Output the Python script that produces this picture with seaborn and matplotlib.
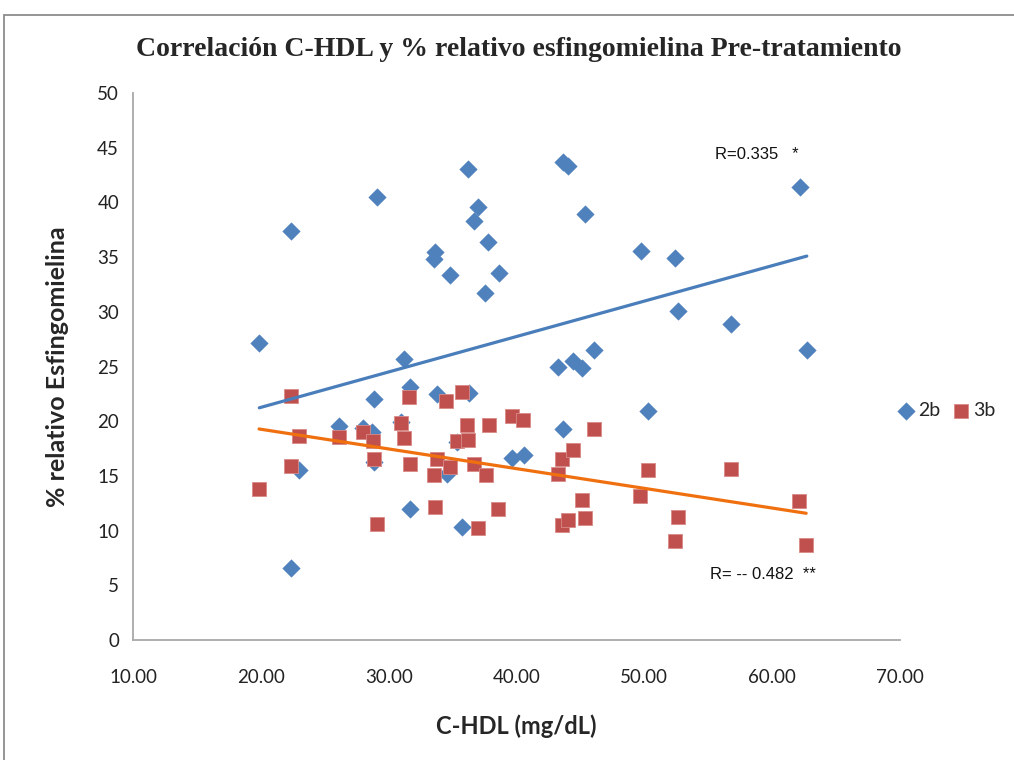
import numpy as np
import pandas as pd
import matplotlib
matplotlib.use("Agg")
import matplotlib.pyplot as plt
import seaborn as sns
from matplotlib.patches import Rectangle

# C-HDL (mg/dL) and % relative sphingomyelin, fraction 2b
hdl_2b = [19.88, 22.39, 22.39, 23.01, 26.09, 28.02, 28.73, 28.86, 28.88, 29.07,
          30.97, 31.23, 31.67, 31.67, 33.55, 33.63, 33.76, 34.55, 34.80, 35.38,
          35.72, 36.19, 36.32, 36.68, 36.97, 37.57, 37.80, 38.61, 39.63, 40.59,
          43.22, 43.62, 43.62, 44.06, 44.45, 45.11, 45.37, 46.07, 49.73, 50.32,
          52.39, 52.67, 56.79, 62.14, 62.71]
esf_2b = [27.18, 37.42, 6.58, 15.54, 19.56, 19.35, 19.04, 22.03, 16.24, 40.52,
          19.96, 25.65, 23.15, 12.00, 34.83, 35.44, 22.46, 15.15, 33.34, 18.13,
          10.36, 43.05, 22.60, 38.30, 39.61, 31.69, 36.41, 33.52, 16.67, 16.91,
          24.98, 43.72, 19.29, 43.33, 25.53, 24.84, 38.94, 26.51, 35.56, 20.93,
          34.94, 30.07, 28.86, 41.44, 26.51]

# C-HDL (mg/dL) and % relative sphingomyelin, fraction 3b
hdl_3b = [19.86, 22.39, 22.39, 22.99, 26.09, 27.97, 28.78, 28.88, 29.07, 30.97,
          31.18, 31.62, 31.67, 33.58, 33.63, 33.76, 34.49, 34.80, 35.33, 35.77,
          36.11, 36.24, 36.71, 36.95, 37.60, 37.83, 38.59, 39.68, 40.54, 43.22,
          43.59, 43.59, 44.06, 44.40, 45.11, 45.39, 46.07, 49.67, 50.32, 52.41,
          52.67, 56.79, 62.11, 62.66]
esf_3b = [13.83, 22.33, 15.88, 18.68, 18.58, 18.99, 18.22, 16.54, 10.63, 19.86,
          18.46, 22.24, 16.06, 15.05, 12.19, 16.52, 21.88, 15.84, 18.22, 22.70,
          19.65, 18.28, 16.06, 10.27, 15.08, 19.65, 11.94, 20.50, 20.11, 15.20,
          16.54, 10.48, 10.97, 17.37, 12.80, 11.12, 19.32, 13.16, 15.54, 9.05,
          11.24, 15.60, 12.71, 8.68]

series_names = ["2b", "3b"]
r_labels = ["R=0.335   *", "R= -- 0.482  **"]

df = pd.concat([
    pd.DataFrame({"hdl": hdl_2b, "esf": esf_2b, "serie": series_names[0]}),
    pd.DataFrame({"hdl": hdl_3b, "esf": esf_3b, "serie": series_names[1]}),
], ignore_index=True)

sns.set_theme(style="white")
plt.rcParams["font.family"] = ["Lato", "DejaVu Sans"]

blue = "#4F81BD"
red = "#C0504D"
blue_line = "#4A7EBB"
orange_line = "#F07010"

fig = plt.figure(figsize=(10.14, 7.6), dpi=100)
ax = fig.add_axes([133 / 1014, 120 / 760, (900 - 133) / 1014, (640 - 93) / 760])

# outer chart frame
fig.patches.append(Rectangle((4 / 1014, -0.05), 1.2, 745 / 760 + 0.05,
                             transform=fig.transFigure, fill=False,
                             edgecolor="#8c8c8c", linewidth=1.3, zorder=0))

sns.scatterplot(data=df[df.serie == "2b"], x="hdl", y="esf", ax=ax, marker="D",
                s=80, color=blue, edgecolor=blue, linewidth=0.3, label="2b", zorder=3)
sns.scatterplot(data=df[df.serie == "3b"], x="hdl", y="esf", ax=ax, marker="s",
                s=88, color=red, edgecolor="#D88a88", linewidth=0.6, label="3b", zorder=4)

# linear trend lines over each series' range
sns.regplot(data=df[df.serie == "2b"], x="hdl", y="esf", ax=ax, scatter=False,
            ci=None, truncate=True, color=blue_line, line_kws={"lw": 2.3, "zorder": 5})
sns.regplot(data=df[df.serie == "3b"], x="hdl", y="esf", ax=ax, scatter=False,
            ci=None, truncate=True, color=orange_line, line_kws={"lw": 2.3, "zorder": 5})

ax.set_xlim(10, 70)
ax.set_ylim(0, 50)
ax.set_xticks(np.arange(10, 71, 10))
ax.set_xticklabels([f"{v:.2f}" for v in np.arange(10, 71, 10)])
ax.set_yticks(np.arange(0, 51, 5))
ax.tick_params(axis="x", length=0, pad=21, labelsize=13.5, colors="#222222")
ax.tick_params(axis="y", length=0, pad=10, labelsize=13.5, colors="#222222")

for side in ["top", "right"]:
    ax.spines[side].set_visible(False)
for side in ["left", "bottom"]:
    ax.spines[side].set_color("#a8a8a8")
    ax.spines[side].set_linewidth(1.3)

ax.set_xlabel("C-HDL (mg/dL)", fontsize=17, fontweight="bold", labelpad=20)
ax.set_ylabel("% relativo Esfingomielina", fontsize=18, fontweight="bold", labelpad=20)

fig.text(0.512, 1 - 49 / 760, "Correlación C-HDL y % relativo esfingomielina Pre-tratamiento",
         ha="center", va="center", fontsize=20, fontweight="bold",
         family=["Liberation Serif", "DejaVu Serif"])

ax.text(55.5, 44.4, r_labels[0], fontsize=12, va="center", ha="left", color="#111111",
        family=["Liberation Sans", "DejaVu Sans"])
ax.text(55.1, 6.0, r_labels[1], fontsize=12, va="center", ha="left", color="#111111",
        family=["Liberation Sans", "DejaVu Sans"])

ax.legend(loc="center left", bbox_to_anchor=(0.985, 0.42), ncol=2, frameon=False,
          fontsize=14, handletextpad=0.1, columnspacing=0.6, handlelength=1.0,
          borderaxespad=0.0)

fig.savefig("out.png", dpi=100, facecolor="white")
